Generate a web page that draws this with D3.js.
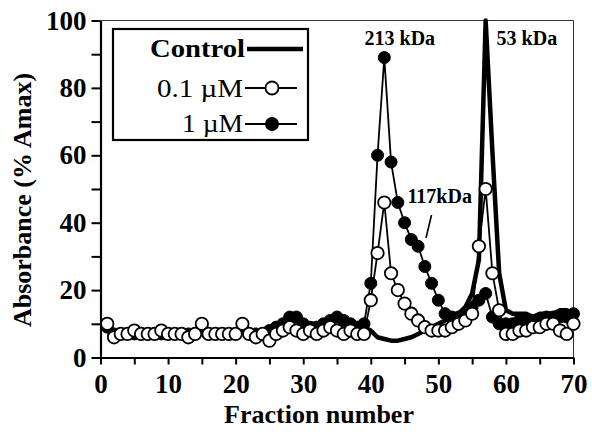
<!DOCTYPE html>
<html><head><meta charset="utf-8">
<script src="https://cdn.jsdelivr.net/npm/d3@7"></script>
<style>body{margin:0;background:#fff} svg{display:block}</style>
</head><body><svg id="c" width="592" height="432"></svg>
<script>
const fractions=[1,2,3,4,5,6,7,8,9,10,11,12,13,14,15,16,17,18,19,20,21,22,23,24,25,26,27,28,29,30,31,32,33,34,35,36,37,38,39,40,41,42,43,44,45,46,47,48,49,50,51,52,53,54,55,56,57,58,59,60,61,62,63,64,65,66,67,68,69,70];
const control=[9,7,7,7,7,7,7,7,7,7,7,7,7,7,8,7,7,7,7,7,8,7,7,8,9,10,10,11,11,10,10,10,10,10,11,10,9,9,9,8,6,5.5,5,5,5.5,6,7,8,9,10,11,12,13,15,19,29,100,61,25,14,13,13,13,12,13,13,13,14,14,13];
const dose01=[10,6,7,7,8,7,7,7,8,7,7,7,6,7,10,7,7,7,7,7,10,7,6,7,5,7,8,9,8,7,8,7,8,9,8,7,8,7,7,17,31,46,25,20,16,13,11,9,8,8,8,9,10,11,13,33,50,25,14,7,7,8,8,9,9,10,10,8,7,10];
const dose1=[9,7,7,7,7,7,7,7,7,7,7,7,7,7,9,7,7,7,7,7,9,7,7,7,8,9,10,12,12,10,9,9,10,11,12,11,10,9,10,22,60,89,58,46,40,35,33,27,22,17,13,12,12,13,15,17,19,12,10,10,10,11,11,11,11,12,12,12,12,13];
const xTickValues=[0,5,10,15,20,25,30,35,40,45,50,55,60,65,70];
const yTickValues=[0,10,20,30,40,50,60,70,80,90,100];
const legendLabels=["Control","0.1 \u00b5M","1 \u00b5M"];
const peakLabels=[{t:"213 kDa",f:44.3,v:92.7},{t:"53 kDa",f:63.1,v:92.7},{t:"117kDa",f:50.2,v:45.8}];

const svg=d3.select("#c");
const FONT="'Liberation Serif','Times New Roman',serif";
const x=d3.scaleLinear().domain([0,70]).range([100.5,573.5]);
const y=d3.scaleLinear().domain([0,100]).range([357.5,20.5]);

// frame top/right
svg.append("line").attr("x1",x(0)).attr("x2",x(70)).attr("y1",y(100)).attr("y2",y(100)).attr("stroke","#333").attr("stroke-width",1);
svg.append("line").attr("x1",x(70)).attr("x2",x(70)).attr("y1",y(100)).attr("y2",y(0)).attr("stroke","#333").attr("stroke-width",1);

// axes
const xa=svg.append("g").attr("transform",`translate(0,${y(0)})`)
  .call(d3.axisBottom(x).tickValues(xTickValues).tickSize(7).tickPadding(9).tickSizeOuter(0).tickFormat(d=>d%10===0?d:""));
const ya=svg.append("g").attr("transform",`translate(${x(0)},0)`)
  .call(d3.axisLeft(y).tickValues(yTickValues).tickSize(9).tickPadding(5).tickSizeOuter(0).tickFormat(d=>d%20===0?d:""));
[xa,ya].forEach(g=>{
  g.select(".domain").attr("stroke","#000").attr("stroke-width",2.2);
  g.selectAll(".tick line").attr("stroke","#000").attr("stroke-width",2);
  g.selectAll(".tick text").attr("fill","#000").style("font-family",FONT).style("font-weight","bold").style("font-size","27px");
});

// axis titles
svg.append("text").attr("x",319).attr("y",423).attr("text-anchor","middle")
  .style("font-family",FONT).style("font-weight","bold").style("font-size","26px").text("Fraction number");
svg.append("text").attr("transform","translate(31,200) rotate(-90)").attr("text-anchor","middle")
  .style("font-family",FONT).style("font-weight","bold").style("font-size","26px").text("Absorbance (% Amax)");

// control line
const line=(vals)=>d3.line().x((d,i)=>x(fractions[i])).y(d=>y(d))(vals);
svg.append("path").attr("d",line(control)).attr("fill","none").attr("stroke","#000").attr("stroke-width",4.5).attr("stroke-linejoin","round");

// 1 uM
svg.append("path").attr("d",line(dose1)).attr("fill","none").attr("stroke","#000").attr("stroke-width",1.8);
svg.append("g").selectAll("circle").data(dose1).join("circle")
  .attr("cx",(d,i)=>x(fractions[i])).attr("cy",d=>y(d)).attr("r",6).attr("fill","#000").attr("stroke","#000").attr("stroke-width",1);

// 0.1 uM
svg.append("path").attr("d",line(dose01)).attr("fill","none").attr("stroke","#000").attr("stroke-width",1.8);
svg.append("g").selectAll("circle").data(dose01).join("circle")
  .attr("cx",(d,i)=>x(fractions[i])).attr("cy",d=>y(d)).attr("r",6.2).attr("fill","#fff").attr("stroke","#000").attr("stroke-width",1.8);

// peak labels
peakLabels.forEach(p=>{
  svg.append("text").attr("x",x(p.f)).attr("y",y(p.v)).attr("text-anchor","middle")
    .style("font-family",FONT).style("font-weight","bold").style("font-size","20px").text(p.t);
});
svg.append("line").attr("x1",431.5).attr("y1",215).attr("x2",426).attr("y2",238).attr("stroke","#000").attr("stroke-width",1.6);

// legend
const lg=svg.append("g");
lg.append("rect").attr("x",113).attr("y",29).attr("width",195).attr("height",111).attr("fill","#fff").attr("stroke","#000").attr("stroke-width",2.2);
const rowsY=[49,88,124];
lg.append("text").attr("x",245).attr("y",57).attr("text-anchor","end").attr("textLength",95).attr("lengthAdjust","spacingAndGlyphs")
  .style("font-family",FONT).style("font-weight","bold").style("font-size","26px").text(legendLabels[0]);
lg.append("text").attr("x",243).attr("y",97).attr("text-anchor","end").attr("textLength",86).attr("lengthAdjust","spacingAndGlyphs")
  .style("font-family",FONT).style("font-size","26px").text(legendLabels[1]);
lg.append("text").attr("x",243).attr("y",132).attr("text-anchor","end").attr("textLength",61).attr("lengthAdjust","spacingAndGlyphs")
  .style("font-family",FONT).style("font-size","26px").text(legendLabels[2]);
lg.append("line").attr("x1",247).attr("x2",303).attr("y1",rowsY[0]).attr("y2",rowsY[0]).attr("stroke","#000").attr("stroke-width",4.5);
lg.append("line").attr("x1",245).attr("x2",297).attr("y1",rowsY[1]).attr("y2",rowsY[1]).attr("stroke","#000").attr("stroke-width",1.8);
lg.append("circle").attr("cx",272).attr("cy",rowsY[1]).attr("r",6.5).attr("fill","#fff").attr("stroke","#000").attr("stroke-width",1.8);
lg.append("line").attr("x1",245).attr("x2",297).attr("y1",rowsY[2]).attr("y2",rowsY[2]).attr("stroke","#000").attr("stroke-width",1.8);
lg.append("circle").attr("cx",272).attr("cy",rowsY[2]).attr("r",7).attr("fill","#000");
</script></body></html>
